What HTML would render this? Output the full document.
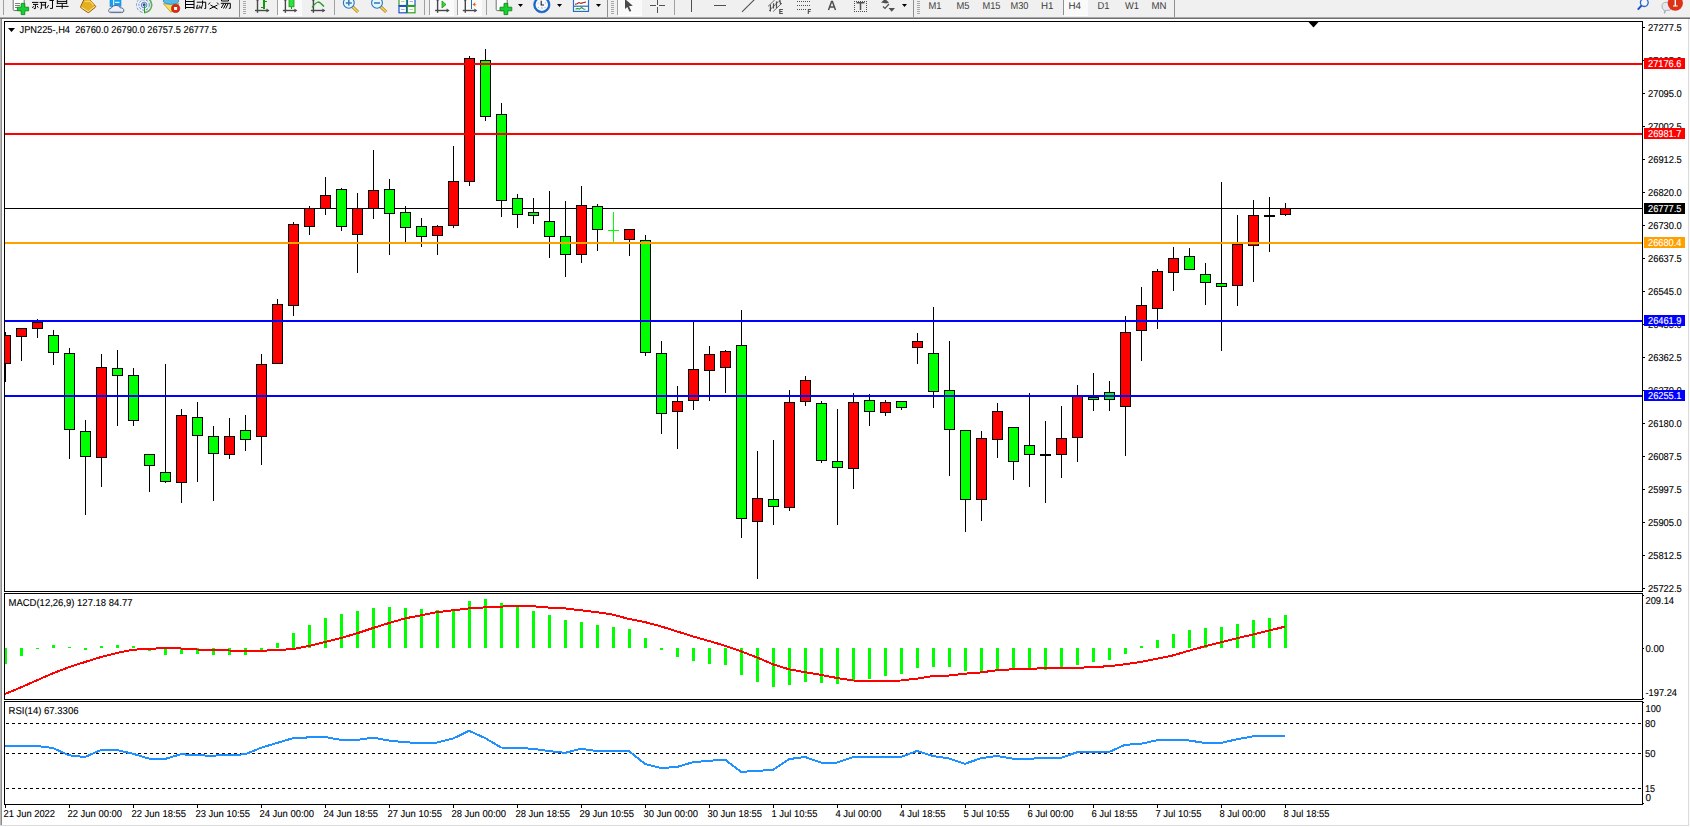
<!DOCTYPE html><html><head><meta charset="utf-8"><title>MT4 JPN225 H4</title>
<style>html,body{margin:0;padding:0;background:#fff;overflow:hidden}svg{display:block}text{font-family:"Liberation Sans",sans-serif;text-rendering:geometricPrecision}</style></head><body>
<svg width="1690" height="827" viewBox="0 0 1690 827" shape-rendering="crispEdges">
<rect x="0" y="0" width="1690" height="827" fill="#ffffff"/>
<rect x="0" y="0" width="1690" height="17" fill="#f0f0f0"/>
<rect x="0" y="17" width="1690" height="1" fill="#a8a8a8"/>
<rect x="0" y="18" width="1690" height="1" fill="#6e6e6e"/>
<rect x="0" y="19" width="1" height="807" fill="#b8b8b8"/>
<rect x="1" y="19" width="1" height="807" fill="#8c8c8c"/>
<rect x="1688" y="19" width="1" height="807" fill="#dcdcdc"/>
<rect x="1689" y="19" width="1" height="808" fill="#fafafa"/>
<rect x="0" y="825" width="1689" height="1" fill="#dcdcdc"/>
<rect x="3" y="0" width="1" height="15" fill="#a0a0a0"/>
<g shape-rendering="geometricPrecision"><rect x="13.2" y="-3" width="11" height="13.5" rx="1" fill="#fdfdfd" stroke="#707070" stroke-width="1"/><rect x="15" y="3" width="5" height="1" fill="#808080"/><rect x="15" y="5" width="5" height="1" fill="#808080"/><rect x="15" y="7" width="3" height="1" fill="#808080"/><path d="M21.2 3.4h3.6v3.8h3.8v3.6h-3.8v3.8h-3.6v-3.8h-3.8v-3.6h3.8z" fill="#18d030" stroke="#108a18" stroke-width="0.9"/></g>
<g shape-rendering="geometricPrecision" stroke="#000" stroke-width="1" fill="none"><path d="M32 2.4h6.4M33 4.4h5.2M35.4 4.4v4.2h-1.6M33.6 6.2l-1.2 1.8M37.2 6l1 1.6"/><path d="M39.6 2.4h6.8M41.4 2.4v6.2l-1.2 0.5M45.4 2.4v6.2M41.4 5h4"/><path d="M46.6 8.2l2-3M49.5 0.5h4.3M52.5 0v8.4l-2.4 0"/><path d="M57.3 -1v5.2M66.7 -1v5.2M57.3 1.4h9.4M57.3 3.4h9.4M56 6.4h12.6M62.2 3.5v5.3"/></g>
<g shape-rendering="geometricPrecision"><path d="M80.6 6.6Q80.4 7.4 81.2 8L87.6 12.4Q88.4 12.9 89.1 12.3L95.4 7.2Q96 6.6 95.4 6L88.6 -1.5L84.4 -1.5Z" fill="#e4b020" stroke="#9a5c10" stroke-width="1"/><path d="M81.6 7.3L88.3 11.6L94.8 6.4" fill="none" stroke="#f8e6a0" stroke-width="1"/><path d="M84.6 1.5L90 1.2L93.5 5" fill="none" stroke="#f8d860" stroke-width="1.2"/></g>
<g shape-rendering="geometricPrecision"><rect x="110" y="-2" width="11" height="8.5" fill="#18a0f0" stroke="#1a88e0" stroke-width="0.6"/><rect x="113" y="-2" width="1.2" height="8" fill="#d8f0ff"/><rect x="115" y="1.8" width="4.5" height="1.1" fill="#ffffff"/><path d="M109 11.8Q107.8 8.8 111.2 8.2Q112.2 5.2 116 5.4Q119 5 120.2 7.8Q124.2 7.8 123.8 11.2Q123.5 12.6 121.5 12.6L110.5 12.6Q109.3 12.5 109 11.8Z" fill="#eef0f6" stroke="#4a5a88" stroke-width="0.9"/><path d="M110 11.4L122.8 11.4" stroke="#b8c0d8" stroke-width="1"/></g>
<g shape-rendering="geometricPrecision" fill="none" stroke-width="0.9"><circle cx="144.1" cy="5" r="7.6" stroke="#6a9ad8" stroke-dasharray="3 1.5"/><circle cx="144.1" cy="5" r="5.2" stroke="#5a8ad0" stroke-dasharray="2.5 1.2"/><circle cx="144.1" cy="5" r="2.8" stroke="#4a7ac8"/><path d="M144.1 -2.6A7.6 7.6 0 0 1 144.1 12.6" stroke="#60b060" stroke-width="1.6"/></g><circle cx="144.1" cy="4.8" r="1.5" fill="#2050c0" shape-rendering="geometricPrecision"/><rect x="144" y="5" width="1.2" height="7.5" fill="#20a020"/>
<g shape-rendering="geometricPrecision"><path d="M163.5 3.8L179 3.8L171 12.4Z" fill="#f4e060" stroke="#c09020" stroke-width="0.8"/><ellipse cx="171" cy="1" rx="7.8" ry="3.3" fill="#58b8e8" stroke="#3088c0" stroke-width="0.8"/><circle cx="175.6" cy="8.5" r="4.1" fill="#e02810" stroke="#a01808" stroke-width="0.6"/><rect x="174.1" y="7" width="3" height="3" fill="#ffffff"/></g>
<g shape-rendering="geometricPrecision" stroke="#000" stroke-width="1" fill="none"><path d="M185.5 -1v10M194 -1v10M185.5 1.5h8.5M185.5 4.5h8.5M185.5 7.5h8.5"/><path d="M196.8 2.2h4.2M197.5 4.8l-1 3.6l4-0.8M199.2 5.5l1.3 2M202.5 0.5v4l-1.3 4.3M201.2 2.2h4.5v6.3h-1.3"/><path d="M210 2.5l-1.5 2M217 2.5l1.8 2M210.5 5l7 4M217.5 5l-8 4"/><path d="M221.5 -1v2h7v-2M220.8 3.3h9.5v5h-1.5M223.8 3.5l-2.5 4.5M226 3.5l-2.5 5M228.2 3.5l-2.5 5"/></g>
<rect x="239" y="0" width="1" height="17" fill="#909090"/>
<rect x="243" y="1" width="3" height="1" fill="#a8a8a8"/>
<rect x="243" y="3" width="3" height="1" fill="#a8a8a8"/>
<rect x="243" y="5" width="3" height="1" fill="#a8a8a8"/>
<rect x="243" y="7" width="3" height="1" fill="#a8a8a8"/>
<rect x="243" y="9" width="3" height="1" fill="#a8a8a8"/>
<rect x="243" y="11" width="3" height="1" fill="#a8a8a8"/>
<rect x="243" y="13" width="3" height="1" fill="#a8a8a8"/>
<g shape-rendering="geometricPrecision" stroke="#484848" stroke-width="1.4" fill="none"><line x1="257.5" y1="0" x2="257.5" y2="12.8"/><line x1="255.0" y1="10.5" x2="267.0" y2="10.5"/></g>
<polygon points="266.5,8.5 269.5,10.5 266.5,12.5" fill="#484848" shape-rendering="geometricPrecision"/>
<circle cx="257.5" cy="0.2" r="1" fill="#484848" shape-rendering="geometricPrecision"/>
<rect x="263.3" y="0" width="1.3" height="8.5" fill="#109a10"/><rect x="264" y="1" width="2.5" height="1.2" fill="#109a10"/><rect x="261" y="7" width="2.5" height="1.2" fill="#109a10"/>
<rect x="277" y="0" width="1" height="15" fill="#a0a0a0"/>
<rect x="278" y="0" width="24" height="15" fill="#fafafa"/>
<rect x="278" y="15" width="24" height="1" fill="#ffffff"/>
<g shape-rendering="geometricPrecision" stroke="#484848" stroke-width="1.4" fill="none"><line x1="285.4" y1="0" x2="285.4" y2="12.8"/><line x1="282.9" y1="10.5" x2="294.9" y2="10.5"/></g>
<polygon points="294.4,8.5 297.4,10.5 294.4,12.5" fill="#484848" shape-rendering="geometricPrecision"/>
<circle cx="285.4" cy="0.2" r="1" fill="#484848" shape-rendering="geometricPrecision"/>
<rect x="289" y="-1" width="5" height="7.8" fill="#30e040" stroke="#109a10" stroke-width="0.8" shape-rendering="geometricPrecision"/><rect x="291" y="7" width="1" height="2" fill="#109a10"/>
<g shape-rendering="geometricPrecision" stroke="#484848" stroke-width="1.4" fill="none"><line x1="313.4" y1="0" x2="313.4" y2="12.8"/><line x1="310.9" y1="10.5" x2="322.9" y2="10.5"/></g>
<polygon points="322.4,8.5 325.4,10.5 322.4,12.5" fill="#484848" shape-rendering="geometricPrecision"/>
<circle cx="313.4" cy="0.2" r="1" fill="#484848" shape-rendering="geometricPrecision"/>
<path d="M312 7.3Q315.5 2.8 318 2Q320 2 324 6.5" fill="none" stroke="#209a20" stroke-width="1.3" shape-rendering="geometricPrecision"/>
<rect x="334" y="0" width="1" height="15" fill="#a0a0a0"/>
<g shape-rendering="geometricPrecision"><line x1="352.40000000000003" y1="6.6" x2="358.0" y2="12" stroke="#b07a10" stroke-width="3"/><line x1="352.40000000000003" y1="6.6" x2="358.0" y2="12" stroke="#f0d860" stroke-width="1.6"/><circle cx="348.8" cy="2.9" r="5.4" fill="#e4f6fc" stroke="#2c74c4" stroke-width="1.1"/><rect x="345.8" y="2.2" width="6" height="1.6" fill="#3a80b8"/><rect x="348.0" y="-0.8" width="1.6" height="6.4" fill="#3a80b8"/></g>
<g shape-rendering="geometricPrecision"><line x1="380.6" y1="6.6" x2="386.2" y2="12" stroke="#b07a10" stroke-width="3"/><line x1="380.6" y1="6.6" x2="386.2" y2="12" stroke="#f0d860" stroke-width="1.6"/><circle cx="377" cy="2.9" r="5.4" fill="#e4f6fc" stroke="#2c74c4" stroke-width="1.1"/><rect x="374" y="2.2" width="6" height="1.6" fill="#3a80b8"/></g>
<g shape-rendering="geometricPrecision"><rect x="399" y="-3" width="7.5" height="8.5" fill="#ffffff" stroke="#30a020" stroke-width="1.2"/><rect x="407.5" y="-3" width="7.5" height="8.5" fill="#ffffff" stroke="#2050d0" stroke-width="1.2"/><rect x="399" y="5.6" width="7.5" height="7.2" fill="#ffffff" stroke="#2050d0" stroke-width="1.2"/><rect x="407.5" y="5.6" width="7.5" height="7.2" fill="#ffffff" stroke="#30a020" stroke-width="1.2"/><rect x="399" y="5.2" width="7.5" height="1.8" fill="#2050d0"/><rect x="407.5" y="5.2" width="7.5" height="1.8" fill="#30a020"/><rect x="401" y="9" width="3.5" height="1" fill="#9ab0e8"/><rect x="409.5" y="9" width="3.5" height="1" fill="#a0d890"/><rect x="401" y="1" width="3.5" height="1" fill="#a0d890"/><rect x="409.5" y="1" width="3.5" height="1" fill="#9ab0e8"/></g>
<rect x="424" y="0" width="1" height="15" fill="#a0a0a0"/>
<rect x="429" y="0" width="1" height="15" fill="#a0a0a0"/>
<rect x="430" y="0" width="24" height="15" fill="#fafafa"/>
<rect x="430" y="15" width="24" height="1" fill="#ffffff"/>
<g shape-rendering="geometricPrecision" stroke="#484848" stroke-width="1.4" fill="none"><line x1="437.6" y1="0" x2="437.6" y2="12.8"/><line x1="435.1" y1="10.5" x2="447.1" y2="10.5"/></g>
<polygon points="446.6,8.5 449.6,10.5 446.6,12.5" fill="#484848" shape-rendering="geometricPrecision"/>
<circle cx="437.6" cy="0.2" r="1" fill="#484848" shape-rendering="geometricPrecision"/>
<polygon points="442,1 442,8 446,4.5" fill="#40d040" stroke="#10a010" stroke-width="0.8" shape-rendering="geometricPrecision"/>
<rect x="457" y="0" width="1" height="15" fill="#a0a0a0"/>
<rect x="458" y="0" width="24" height="15" fill="#fafafa"/>
<rect x="458" y="15" width="24" height="1" fill="#ffffff"/>
<g shape-rendering="geometricPrecision" stroke="#484848" stroke-width="1.4" fill="none"><line x1="465.3" y1="0" x2="465.3" y2="12.8"/><line x1="462.8" y1="10.5" x2="474.8" y2="10.5"/></g>
<polygon points="474.3,8.5 477.3,10.5 474.3,12.5" fill="#484848" shape-rendering="geometricPrecision"/>
<circle cx="465.3" cy="0.2" r="1" fill="#484848" shape-rendering="geometricPrecision"/>
<rect x="471" y="0" width="1.2" height="8.5" fill="#1a70b0"/><polygon points="472.5,4.4 475.5,2.2 475,4 477,4.4 475,4.8 475.5,6.6" fill="#e85a10" shape-rendering="geometricPrecision"/>
<rect x="486" y="0" width="1" height="15" fill="#a0a0a0"/>
<g shape-rendering="geometricPrecision"><rect x="496.2" y="-3" width="11" height="13.6" rx="1" fill="#fdfdfd" stroke="#707070" stroke-width="1"/><path d="M504 3.4h3.8v3.8h4v3.6h-4v3.8h-3.8v-3.8h-4v-3.6h4z" fill="#18d030" stroke="#108a18" stroke-width="0.9"/></g>
<polygon points="518,4 523,4 520.5,7" fill="#000" shape-rendering="geometricPrecision"/>
<g shape-rendering="geometricPrecision"><circle cx="541.8" cy="4.7" r="7.2" fill="#f4f8fc" stroke="#1a6ad0" stroke-width="1.9"/><circle cx="541.8" cy="4.7" r="8.2" fill="none" stroke="#0e4aa0" stroke-width="0.6"/><path d="M541.2 0.8V5h2.8" fill="none" stroke="#202020" stroke-width="1.1"/><circle cx="538" cy="3" r="0.5" fill="#a0a0a0"/><circle cx="545.5" cy="3" r="0.5" fill="#a0a0a0"/><circle cx="538.5" cy="7.5" r="0.5" fill="#a0a0a0"/><circle cx="545" cy="7.5" r="0.5" fill="#a0a0a0"/><rect x="541" y="7.6" width="1.8" height="0.8" fill="#60a8f0"/></g>
<polygon points="557,4 562,4 559.5,7" fill="#000" shape-rendering="geometricPrecision"/>
<g shape-rendering="geometricPrecision"><rect x="573.5" y="-2" width="15" height="13.4" fill="#ffffff" stroke="#2a6ac8" stroke-width="1.2"/><rect x="573.5" y="5.6" width="15" height="1.2" fill="#2a6ac8"/><path d="M575 4.2l2-0.4l2-1.2l2 0.8l2-0.6l3-0.8" fill="none" stroke="#a02010" stroke-width="1.1"/><path d="M575.5 9.2l2-0.8l2 0.8l2-1.8l2 1.6l2 0.2" fill="none" stroke="#20a020" stroke-width="1.1"/></g>
<polygon points="596,4 601,4 598.5,7" fill="#000" shape-rendering="geometricPrecision"/>
<rect x="607" y="0" width="1" height="17" fill="#909090"/>
<rect x="611" y="1" width="3" height="1" fill="#a8a8a8"/>
<rect x="611" y="3" width="3" height="1" fill="#a8a8a8"/>
<rect x="611" y="5" width="3" height="1" fill="#a8a8a8"/>
<rect x="611" y="7" width="3" height="1" fill="#a8a8a8"/>
<rect x="611" y="9" width="3" height="1" fill="#a8a8a8"/>
<rect x="611" y="11" width="3" height="1" fill="#a8a8a8"/>
<rect x="611" y="13" width="3" height="1" fill="#a8a8a8"/>
<rect x="617" y="0" width="1" height="15" fill="#a0a0a0"/>
<rect x="618" y="0" width="24" height="15" fill="#fafafa"/>
<rect x="618" y="15" width="24" height="1" fill="#ffffff"/>
<polygon points="625,-1 625,9 627.3,7 629.6,11.8 631.3,11 629,6.2 632.8,5.8" fill="#4a4a4a" shape-rendering="geometricPrecision"/>
<g fill="#505050"><rect x="650" y="5" width="6" height="1.2"/><rect x="659" y="5" width="6" height="1.2"/><rect x="657" y="0" width="1.2" height="4.5"/><rect x="657" y="7" width="1.2" height="6"/></g>
<rect x="674" y="0" width="1" height="15" fill="#a0a0a0"/>
<rect x="691" y="0" width="1.2" height="12" fill="#505050"/>
<rect x="714" y="5" width="12" height="1.3" fill="#505050"/>
<line x1="742" y1="11.8" x2="754.5" y2="-0.5" stroke="#505050" stroke-width="1.1" shape-rendering="geometricPrecision"/>
<g shape-rendering="geometricPrecision" stroke="#505050" fill="none"><path d="M768 6.4L774.8 -0.2M773.1 11.6L781.8 3.3" stroke-width="0.9" stroke="#606060"/><path d="M770.4 4.5V11.6M773.5 3.3V8.5M776.5 1.4V8.1M779.7 -0.5L780.6 4.3" stroke-width="1.2"/><path d="M769 10.4h1.5M770.6 8.2h1.5M772.2 7.2h1.5M773.6 5.3h1.5M775.2 4.3h1.5M776.7 2.3h1.5M778.6 1.3h1.5M780.3 3.5h1.2" stroke-width="0.9"/></g>
<path d="M779.5 9.5h3.4M779.5 11.5h3M779.5 13.5h3.4M779.8 9v5" stroke="#505050" stroke-width="1.2" fill="none" shape-rendering="geometricPrecision"/>
<rect x="797" y="1" width="1" height="1" fill="#505050"/>
<rect x="799" y="1" width="1" height="1" fill="#505050"/>
<rect x="801" y="1" width="1" height="1" fill="#505050"/>
<rect x="803" y="1" width="1" height="1" fill="#505050"/>
<rect x="805" y="1" width="1" height="1" fill="#505050"/>
<rect x="807" y="1" width="1" height="1" fill="#505050"/>
<rect x="809" y="1" width="1" height="1" fill="#505050"/>
<rect x="797" y="5" width="1" height="1" fill="#505050"/>
<rect x="799" y="5" width="1" height="1" fill="#505050"/>
<rect x="801" y="5" width="1" height="1" fill="#505050"/>
<rect x="803" y="5" width="1" height="1" fill="#505050"/>
<rect x="805" y="5" width="1" height="1" fill="#505050"/>
<rect x="807" y="5" width="1" height="1" fill="#505050"/>
<rect x="809" y="5" width="1" height="1" fill="#505050"/>
<rect x="797" y="9" width="1" height="1" fill="#505050"/>
<rect x="799" y="9" width="1" height="1" fill="#505050"/>
<rect x="801" y="9" width="1" height="1" fill="#505050"/>
<rect x="803" y="9" width="1" height="1" fill="#505050"/>
<rect x="805" y="9" width="1" height="1" fill="#505050"/>
<path d="M808 9.5h3M808 11.5h2.5M808.3 9.3v4.6" stroke="#505050" stroke-width="1.1" fill="none" shape-rendering="geometricPrecision"/>
<path d="M828.5 10L831.6 1.4h0.8L835.5 10M829.6 7h4.8" stroke="#505050" stroke-width="1.5" fill="none" shape-rendering="geometricPrecision"/>
<rect x="854" y="1" width="1" height="1" fill="#505050"/><rect x="854" y="11" width="1" height="1" fill="#505050"/>
<rect x="856" y="1" width="1" height="1" fill="#505050"/><rect x="856" y="11" width="1" height="1" fill="#505050"/>
<rect x="858" y="1" width="1" height="1" fill="#505050"/><rect x="858" y="11" width="1" height="1" fill="#505050"/>
<rect x="860" y="1" width="1" height="1" fill="#505050"/><rect x="860" y="11" width="1" height="1" fill="#505050"/>
<rect x="862" y="1" width="1" height="1" fill="#505050"/><rect x="862" y="11" width="1" height="1" fill="#505050"/>
<rect x="864" y="1" width="1" height="1" fill="#505050"/><rect x="864" y="11" width="1" height="1" fill="#505050"/>
<rect x="866" y="1" width="1" height="1" fill="#505050"/><rect x="866" y="11" width="1" height="1" fill="#505050"/>
<rect x="854" y="1" width="1" height="1" fill="#505050"/><rect x="866" y="1" width="1" height="1" fill="#505050"/>
<rect x="854" y="3" width="1" height="1" fill="#505050"/><rect x="866" y="3" width="1" height="1" fill="#505050"/>
<rect x="854" y="5" width="1" height="1" fill="#505050"/><rect x="866" y="5" width="1" height="1" fill="#505050"/>
<rect x="854" y="7" width="1" height="1" fill="#505050"/><rect x="866" y="7" width="1" height="1" fill="#505050"/>
<rect x="854" y="9" width="1" height="1" fill="#505050"/><rect x="866" y="9" width="1" height="1" fill="#505050"/>
<rect x="854" y="11" width="1" height="1" fill="#505050"/><rect x="866" y="11" width="1" height="1" fill="#505050"/>
<path d="M856.5 2.8h8M860.5 2.8v7.2" stroke="#505050" stroke-width="1.5" fill="none" shape-rendering="geometricPrecision"/>
<g shape-rendering="geometricPrecision" fill="#505050"><polygon points="881,2.4 885,-1 889,2.4 886.5,3.5"/><polygon points="888.5,8 895,8 891.7,11.8"/></g><path d="M883 6.5l2 2l4-4.5" stroke="#505050" stroke-width="1.2" fill="none" shape-rendering="geometricPrecision"/>
<polygon points="902,4 907,4 904.5,7" fill="#000" shape-rendering="geometricPrecision"/>
<rect x="913" y="0" width="1" height="17" fill="#909090"/>
<rect x="917" y="1" width="3" height="1" fill="#a8a8a8"/>
<rect x="917" y="3" width="3" height="1" fill="#a8a8a8"/>
<rect x="917" y="5" width="3" height="1" fill="#a8a8a8"/>
<rect x="917" y="7" width="3" height="1" fill="#a8a8a8"/>
<rect x="917" y="9" width="3" height="1" fill="#a8a8a8"/>
<rect x="917" y="11" width="3" height="1" fill="#a8a8a8"/>
<rect x="917" y="13" width="3" height="1" fill="#a8a8a8"/>
<rect x="1063" y="0" width="1" height="15" fill="#909090"/>
<rect x="1064" y="0" width="24" height="15" fill="#fafafa"/>
<rect x="1064" y="15" width="24" height="1" fill="#ffffff"/>
<text x="928.5" y="9" font-size="10" fill="#3c3c3c" textLength="13" lengthAdjust="spacingAndGlyphs">M1</text>
<text x="956.5" y="9" font-size="10" fill="#3c3c3c" textLength="13" lengthAdjust="spacingAndGlyphs">M5</text>
<text x="982.5" y="9" font-size="10" fill="#3c3c3c" textLength="18" lengthAdjust="spacingAndGlyphs">M15</text>
<text x="1010.5" y="9" font-size="10" fill="#3c3c3c" textLength="18" lengthAdjust="spacingAndGlyphs">M30</text>
<text x="1041" y="9" font-size="10" fill="#3c3c3c" textLength="12.5" lengthAdjust="spacingAndGlyphs">H1</text>
<text x="1068.5" y="9" font-size="10" fill="#3c3c3c" textLength="12.5" lengthAdjust="spacingAndGlyphs">H4</text>
<text x="1097.5" y="9" font-size="10" fill="#3c3c3c" textLength="12" lengthAdjust="spacingAndGlyphs">D1</text>
<text x="1125" y="9" font-size="10" fill="#3c3c3c" textLength="14" lengthAdjust="spacingAndGlyphs">W1</text>
<text x="1151.5" y="9" font-size="10" fill="#3c3c3c" textLength="15" lengthAdjust="spacingAndGlyphs">MN</text>
<rect x="1174" y="0" width="1" height="17" fill="#909090"/>
<g shape-rendering="geometricPrecision"><circle cx="1644.3" cy="2.6" r="3.9" fill="#f4f6fc" stroke="#2a64d0" stroke-width="1.3"/><line x1="1641.7" y1="5.4" x2="1637.8" y2="9.6" stroke="#1a50c0" stroke-width="2"/></g>
<g shape-rendering="geometricPrecision"><path d="M1662 6Q1662 2.2 1667 2.2Q1672.3 2.2 1672.3 6.5Q1672.3 10.4 1667 10.4L1665.5 10.4L1664.6 13.4L1664.2 10Q1662 9.3 1662 6Z" fill="#e6e8ee" stroke="#a0a0a8" stroke-width="0.8"/><circle cx="1675.3" cy="3.2" r="7.6" fill="#dc3218"/><path d="M1674.6 -1h1.4v6.4h1.6v1h-4.6v-1h1.6z" fill="#ffffff"/></g>
<defs><clipPath id="cm"><rect x="5" y="22" width="1637" height="569"/></clipPath><clipPath id="cd"><rect x="5" y="594" width="1637" height="105"/></clipPath><clipPath id="cr"><rect x="5" y="702" width="1637" height="102"/></clipPath></defs>
<g clip-path="url(#cm)">
<rect x="5" y="208" width="1637" height="1" fill="#000"/>
<rect x="5" y="332" width="1" height="50" fill="#000"/>
<rect x="0" y="335" width="11" height="29" fill="#000"/>
<rect x="1" y="336" width="9" height="27" fill="#ff0000"/>
<rect x="21" y="328" width="1" height="33" fill="#000"/>
<rect x="16" y="328" width="11" height="9" fill="#000"/>
<rect x="17" y="329" width="9" height="7" fill="#ff0000"/>
<rect x="37" y="319" width="1" height="19" fill="#000"/>
<rect x="32" y="322" width="11" height="7" fill="#000"/>
<rect x="33" y="323" width="9" height="5" fill="#ff0000"/>
<rect x="53" y="330" width="1" height="35" fill="#000"/>
<rect x="48" y="335" width="11" height="18" fill="#000"/>
<rect x="49" y="336" width="9" height="16" fill="#00ff00"/>
<rect x="69" y="348" width="1" height="111" fill="#000"/>
<rect x="64" y="353" width="11" height="77" fill="#000"/>
<rect x="65" y="354" width="9" height="75" fill="#00ff00"/>
<rect x="85" y="420" width="1" height="95" fill="#000"/>
<rect x="80" y="431" width="11" height="26" fill="#000"/>
<rect x="81" y="432" width="9" height="24" fill="#00ff00"/>
<rect x="101" y="354" width="1" height="133" fill="#000"/>
<rect x="96" y="367" width="11" height="91" fill="#000"/>
<rect x="97" y="368" width="9" height="89" fill="#ff0000"/>
<rect x="117" y="350" width="1" height="76" fill="#000"/>
<rect x="112" y="368" width="11" height="8" fill="#000"/>
<rect x="113" y="369" width="9" height="6" fill="#00ff00"/>
<rect x="133" y="368" width="1" height="58" fill="#000"/>
<rect x="128" y="375" width="11" height="46" fill="#000"/>
<rect x="129" y="376" width="9" height="44" fill="#00ff00"/>
<rect x="149" y="454" width="1" height="38" fill="#000"/>
<rect x="144" y="454" width="11" height="12" fill="#000"/>
<rect x="145" y="455" width="9" height="10" fill="#00ff00"/>
<rect x="165" y="364" width="1" height="119" fill="#000"/>
<rect x="160" y="472" width="11" height="10" fill="#000"/>
<rect x="161" y="473" width="9" height="8" fill="#00ff00"/>
<rect x="181" y="409" width="1" height="94" fill="#000"/>
<rect x="176" y="415" width="11" height="68" fill="#000"/>
<rect x="177" y="416" width="9" height="66" fill="#ff0000"/>
<rect x="197" y="402" width="1" height="80" fill="#000"/>
<rect x="192" y="417" width="11" height="19" fill="#000"/>
<rect x="193" y="418" width="9" height="17" fill="#00ff00"/>
<rect x="213" y="426" width="1" height="75" fill="#000"/>
<rect x="208" y="436" width="11" height="18" fill="#000"/>
<rect x="209" y="437" width="9" height="16" fill="#00ff00"/>
<rect x="229" y="418" width="1" height="41" fill="#000"/>
<rect x="224" y="436" width="11" height="19" fill="#000"/>
<rect x="225" y="437" width="9" height="17" fill="#ff0000"/>
<rect x="245" y="415" width="1" height="36" fill="#000"/>
<rect x="240" y="430" width="11" height="10" fill="#000"/>
<rect x="241" y="431" width="9" height="8" fill="#00ff00"/>
<rect x="261" y="354" width="1" height="111" fill="#000"/>
<rect x="256" y="364" width="11" height="73" fill="#000"/>
<rect x="257" y="365" width="9" height="71" fill="#ff0000"/>
<rect x="277" y="299" width="1" height="65" fill="#000"/>
<rect x="272" y="304" width="11" height="60" fill="#000"/>
<rect x="273" y="305" width="9" height="58" fill="#ff0000"/>
<rect x="293" y="222" width="1" height="94" fill="#000"/>
<rect x="288" y="224" width="11" height="82" fill="#000"/>
<rect x="289" y="225" width="9" height="80" fill="#ff0000"/>
<rect x="309" y="206" width="1" height="29" fill="#000"/>
<rect x="304" y="208" width="11" height="19" fill="#000"/>
<rect x="305" y="209" width="9" height="17" fill="#ff0000"/>
<rect x="325" y="177" width="1" height="38" fill="#000"/>
<rect x="320" y="195" width="11" height="14" fill="#000"/>
<rect x="321" y="196" width="9" height="12" fill="#ff0000"/>
<rect x="341" y="188" width="1" height="43" fill="#000"/>
<rect x="336" y="189" width="11" height="38" fill="#000"/>
<rect x="337" y="190" width="9" height="36" fill="#00ff00"/>
<rect x="357" y="193" width="1" height="80" fill="#000"/>
<rect x="352" y="208" width="11" height="27" fill="#000"/>
<rect x="353" y="209" width="9" height="25" fill="#ff0000"/>
<rect x="373" y="150" width="1" height="69" fill="#000"/>
<rect x="368" y="190" width="11" height="19" fill="#000"/>
<rect x="369" y="191" width="9" height="17" fill="#ff0000"/>
<rect x="389" y="179" width="1" height="76" fill="#000"/>
<rect x="384" y="189" width="11" height="25" fill="#000"/>
<rect x="385" y="190" width="9" height="23" fill="#00ff00"/>
<rect x="405" y="206" width="1" height="37" fill="#000"/>
<rect x="400" y="212" width="11" height="16" fill="#000"/>
<rect x="401" y="213" width="9" height="14" fill="#00ff00"/>
<rect x="421" y="218" width="1" height="29" fill="#000"/>
<rect x="416" y="226" width="11" height="11" fill="#000"/>
<rect x="417" y="227" width="9" height="9" fill="#00ff00"/>
<rect x="437" y="225" width="1" height="30" fill="#000"/>
<rect x="432" y="226" width="11" height="10" fill="#000"/>
<rect x="433" y="227" width="9" height="8" fill="#ff0000"/>
<rect x="453" y="146" width="1" height="82" fill="#000"/>
<rect x="448" y="181" width="11" height="45" fill="#000"/>
<rect x="449" y="182" width="9" height="43" fill="#ff0000"/>
<rect x="469" y="56" width="1" height="130" fill="#000"/>
<rect x="464" y="58" width="11" height="124" fill="#000"/>
<rect x="465" y="59" width="9" height="122" fill="#ff0000"/>
<rect x="485" y="49" width="1" height="72" fill="#000"/>
<rect x="480" y="60" width="11" height="57" fill="#000"/>
<rect x="481" y="61" width="9" height="55" fill="#00ff00"/>
<rect x="501" y="103" width="1" height="114" fill="#000"/>
<rect x="496" y="114" width="11" height="87" fill="#000"/>
<rect x="497" y="115" width="9" height="85" fill="#00ff00"/>
<rect x="517" y="194" width="1" height="34" fill="#000"/>
<rect x="512" y="198" width="11" height="17" fill="#000"/>
<rect x="513" y="199" width="9" height="15" fill="#00ff00"/>
<rect x="533" y="198" width="1" height="26" fill="#000"/>
<rect x="528" y="212" width="11" height="4" fill="#000"/>
<rect x="529" y="213" width="9" height="2" fill="#00ff00"/>
<rect x="549" y="191" width="1" height="67" fill="#000"/>
<rect x="544" y="221" width="11" height="16" fill="#000"/>
<rect x="545" y="222" width="9" height="14" fill="#00ff00"/>
<rect x="565" y="201" width="1" height="76" fill="#000"/>
<rect x="560" y="236" width="11" height="19" fill="#000"/>
<rect x="561" y="237" width="9" height="17" fill="#00ff00"/>
<rect x="581" y="186" width="1" height="77" fill="#000"/>
<rect x="576" y="205" width="11" height="50" fill="#000"/>
<rect x="577" y="206" width="9" height="48" fill="#ff0000"/>
<rect x="597" y="204" width="1" height="47" fill="#000"/>
<rect x="592" y="206" width="11" height="24" fill="#000"/>
<rect x="593" y="207" width="9" height="22" fill="#00ff00"/>
<rect x="613" y="212" width="1" height="31" fill="#00ff00"/>
<rect x="608" y="230" width="11" height="1" fill="#00ff00"/>
<rect x="629" y="229" width="1" height="27" fill="#000"/>
<rect x="624" y="229" width="11" height="11" fill="#000"/>
<rect x="625" y="230" width="9" height="9" fill="#ff0000"/>
<rect x="645" y="235" width="1" height="121" fill="#000"/>
<rect x="640" y="240" width="11" height="113" fill="#000"/>
<rect x="641" y="241" width="9" height="111" fill="#00ff00"/>
<rect x="661" y="341" width="1" height="93" fill="#000"/>
<rect x="656" y="353" width="11" height="61" fill="#000"/>
<rect x="657" y="354" width="9" height="59" fill="#00ff00"/>
<rect x="677" y="386" width="1" height="63" fill="#000"/>
<rect x="672" y="401" width="11" height="11" fill="#000"/>
<rect x="673" y="402" width="9" height="9" fill="#ff0000"/>
<rect x="693" y="321" width="1" height="89" fill="#000"/>
<rect x="688" y="369" width="11" height="32" fill="#000"/>
<rect x="689" y="370" width="9" height="30" fill="#ff0000"/>
<rect x="709" y="346" width="1" height="55" fill="#000"/>
<rect x="704" y="354" width="11" height="17" fill="#000"/>
<rect x="705" y="355" width="9" height="15" fill="#ff0000"/>
<rect x="725" y="350" width="1" height="43" fill="#000"/>
<rect x="720" y="351" width="11" height="17" fill="#000"/>
<rect x="721" y="352" width="9" height="15" fill="#ff0000"/>
<rect x="741" y="310" width="1" height="228" fill="#000"/>
<rect x="736" y="345" width="11" height="174" fill="#000"/>
<rect x="737" y="346" width="9" height="172" fill="#00ff00"/>
<rect x="757" y="451" width="1" height="128" fill="#000"/>
<rect x="752" y="498" width="11" height="24" fill="#000"/>
<rect x="753" y="499" width="9" height="22" fill="#ff0000"/>
<rect x="773" y="440" width="1" height="85" fill="#000"/>
<rect x="768" y="499" width="11" height="8" fill="#000"/>
<rect x="769" y="500" width="9" height="6" fill="#00ff00"/>
<rect x="789" y="390" width="1" height="121" fill="#000"/>
<rect x="784" y="402" width="11" height="106" fill="#000"/>
<rect x="785" y="403" width="9" height="104" fill="#ff0000"/>
<rect x="805" y="376" width="1" height="30" fill="#000"/>
<rect x="800" y="380" width="11" height="22" fill="#000"/>
<rect x="801" y="381" width="9" height="20" fill="#ff0000"/>
<rect x="821" y="401" width="1" height="62" fill="#000"/>
<rect x="816" y="403" width="11" height="58" fill="#000"/>
<rect x="817" y="404" width="9" height="56" fill="#00ff00"/>
<rect x="837" y="409" width="1" height="116" fill="#000"/>
<rect x="832" y="461" width="11" height="7" fill="#000"/>
<rect x="833" y="462" width="9" height="5" fill="#00ff00"/>
<rect x="853" y="393" width="1" height="96" fill="#000"/>
<rect x="848" y="402" width="11" height="67" fill="#000"/>
<rect x="849" y="403" width="9" height="65" fill="#ff0000"/>
<rect x="869" y="394" width="1" height="32" fill="#000"/>
<rect x="864" y="400" width="11" height="12" fill="#000"/>
<rect x="865" y="401" width="9" height="10" fill="#00ff00"/>
<rect x="885" y="400" width="1" height="16" fill="#000"/>
<rect x="880" y="402" width="11" height="11" fill="#000"/>
<rect x="881" y="403" width="9" height="9" fill="#ff0000"/>
<rect x="901" y="401" width="1" height="9" fill="#000"/>
<rect x="896" y="401" width="11" height="7" fill="#000"/>
<rect x="897" y="402" width="9" height="5" fill="#00ff00"/>
<rect x="917" y="333" width="1" height="31" fill="#000"/>
<rect x="912" y="341" width="11" height="7" fill="#000"/>
<rect x="913" y="342" width="9" height="5" fill="#ff0000"/>
<rect x="933" y="307" width="1" height="101" fill="#000"/>
<rect x="928" y="353" width="11" height="39" fill="#000"/>
<rect x="929" y="354" width="9" height="37" fill="#00ff00"/>
<rect x="949" y="341" width="1" height="135" fill="#000"/>
<rect x="944" y="390" width="11" height="40" fill="#000"/>
<rect x="945" y="391" width="9" height="38" fill="#00ff00"/>
<rect x="965" y="430" width="1" height="102" fill="#000"/>
<rect x="960" y="430" width="11" height="70" fill="#000"/>
<rect x="961" y="431" width="9" height="68" fill="#00ff00"/>
<rect x="981" y="431" width="1" height="90" fill="#000"/>
<rect x="976" y="438" width="11" height="62" fill="#000"/>
<rect x="977" y="439" width="9" height="60" fill="#ff0000"/>
<rect x="997" y="403" width="1" height="55" fill="#000"/>
<rect x="992" y="411" width="11" height="29" fill="#000"/>
<rect x="993" y="412" width="9" height="27" fill="#ff0000"/>
<rect x="1013" y="427" width="1" height="53" fill="#000"/>
<rect x="1008" y="427" width="11" height="35" fill="#000"/>
<rect x="1009" y="428" width="9" height="33" fill="#00ff00"/>
<rect x="1029" y="393" width="1" height="94" fill="#000"/>
<rect x="1024" y="445" width="11" height="10" fill="#000"/>
<rect x="1025" y="446" width="9" height="8" fill="#00ff00"/>
<rect x="1045" y="421" width="1" height="82" fill="#000"/>
<rect x="1040" y="454" width="11" height="2" fill="#000"/>
<rect x="1061" y="406" width="1" height="72" fill="#000"/>
<rect x="1056" y="438" width="11" height="17" fill="#000"/>
<rect x="1057" y="439" width="9" height="15" fill="#ff0000"/>
<rect x="1077" y="385" width="1" height="77" fill="#000"/>
<rect x="1072" y="396" width="11" height="42" fill="#000"/>
<rect x="1073" y="397" width="9" height="40" fill="#ff0000"/>
<rect x="1093" y="373" width="1" height="38" fill="#000"/>
<rect x="1088" y="397" width="11" height="3" fill="#000"/>
<rect x="1089" y="398" width="9" height="1" fill="#00ff00"/>
<rect x="1109" y="381" width="1" height="30" fill="#000"/>
<rect x="1104" y="392" width="11" height="8" fill="#000"/>
<rect x="1105" y="393" width="9" height="6" fill="#00ff00"/>
<rect x="1125" y="316" width="1" height="140" fill="#000"/>
<rect x="1120" y="332" width="11" height="75" fill="#000"/>
<rect x="1121" y="333" width="9" height="73" fill="#ff0000"/>
<rect x="1141" y="287" width="1" height="74" fill="#000"/>
<rect x="1136" y="305" width="11" height="26" fill="#000"/>
<rect x="1137" y="306" width="9" height="24" fill="#ff0000"/>
<rect x="1157" y="269" width="1" height="60" fill="#000"/>
<rect x="1152" y="271" width="11" height="38" fill="#000"/>
<rect x="1153" y="272" width="9" height="36" fill="#ff0000"/>
<rect x="1173" y="247" width="1" height="44" fill="#000"/>
<rect x="1168" y="258" width="11" height="15" fill="#000"/>
<rect x="1169" y="259" width="9" height="13" fill="#ff0000"/>
<rect x="1189" y="248" width="1" height="22" fill="#000"/>
<rect x="1184" y="256" width="11" height="14" fill="#000"/>
<rect x="1185" y="257" width="9" height="12" fill="#00ff00"/>
<rect x="1205" y="263" width="1" height="42" fill="#000"/>
<rect x="1200" y="274" width="11" height="9" fill="#000"/>
<rect x="1201" y="275" width="9" height="7" fill="#00ff00"/>
<rect x="1221" y="182" width="1" height="169" fill="#000"/>
<rect x="1216" y="283" width="11" height="4" fill="#000"/>
<rect x="1217" y="284" width="9" height="2" fill="#00ff00"/>
<rect x="1237" y="215" width="1" height="91" fill="#000"/>
<rect x="1232" y="244" width="11" height="42" fill="#000"/>
<rect x="1233" y="245" width="9" height="40" fill="#ff0000"/>
<rect x="1253" y="200" width="1" height="82" fill="#000"/>
<rect x="1248" y="215" width="11" height="31" fill="#000"/>
<rect x="1249" y="216" width="9" height="29" fill="#ff0000"/>
<rect x="1269" y="197" width="1" height="55" fill="#000"/>
<rect x="1264" y="215" width="11" height="2" fill="#000"/>
<rect x="1285" y="203" width="1" height="13" fill="#000"/>
<rect x="1280" y="208" width="11" height="7" fill="#000"/>
<rect x="1281" y="209" width="9" height="5" fill="#ff0000"/>
<rect x="5" y="63" width="1637" height="2" fill="#ff0000"/>
<rect x="5" y="133" width="1637" height="2" fill="#ff0000"/>
<rect x="5" y="242" width="1637" height="2" fill="#ffa000"/>
<rect x="5" y="320" width="1637" height="2" fill="#0000ff"/>
<rect x="5" y="395" width="1637" height="2" fill="#0000ff"/>
<polygon points="1308.5,22 1318.5,22 1313.5,27.5" fill="#000" shape-rendering="geometricPrecision"/>
</g>
<polygon points="8,28 15,28 11.5,32" fill="#000" shape-rendering="geometricPrecision"/>
<g clip-path="url(#cd)">
<rect x="4" y="648" width="3" height="16" fill="#00ff00"/>
<rect x="20" y="648" width="3" height="8" fill="#00ff00"/>
<rect x="36" y="648" width="3" height="1" fill="#00ff00"/>
<rect x="52" y="645" width="3" height="3" fill="#00ff00"/>
<rect x="68" y="647" width="3" height="1" fill="#00ff00"/>
<rect x="84" y="648" width="3" height="2" fill="#00ff00"/>
<rect x="100" y="646" width="3" height="2" fill="#00ff00"/>
<rect x="116" y="645" width="3" height="3" fill="#00ff00"/>
<rect x="132" y="646" width="3" height="2" fill="#00ff00"/>
<rect x="148" y="648" width="3" height="3" fill="#00ff00"/>
<rect x="164" y="648" width="3" height="7" fill="#00ff00"/>
<rect x="180" y="648" width="3" height="6" fill="#00ff00"/>
<rect x="196" y="648" width="3" height="6" fill="#00ff00"/>
<rect x="212" y="648" width="3" height="7" fill="#00ff00"/>
<rect x="228" y="648" width="3" height="7" fill="#00ff00"/>
<rect x="244" y="648" width="3" height="7" fill="#00ff00"/>
<rect x="260" y="648" width="3" height="3" fill="#00ff00"/>
<rect x="276" y="643" width="3" height="5" fill="#00ff00"/>
<rect x="292" y="633" width="3" height="15" fill="#00ff00"/>
<rect x="308" y="625" width="3" height="23" fill="#00ff00"/>
<rect x="324" y="618" width="3" height="30" fill="#00ff00"/>
<rect x="340" y="614" width="3" height="34" fill="#00ff00"/>
<rect x="356" y="611" width="3" height="37" fill="#00ff00"/>
<rect x="372" y="608" width="3" height="40" fill="#00ff00"/>
<rect x="388" y="607" width="3" height="41" fill="#00ff00"/>
<rect x="404" y="608" width="3" height="40" fill="#00ff00"/>
<rect x="420" y="609" width="3" height="39" fill="#00ff00"/>
<rect x="436" y="610" width="3" height="38" fill="#00ff00"/>
<rect x="452" y="609" width="3" height="39" fill="#00ff00"/>
<rect x="468" y="601" width="3" height="47" fill="#00ff00"/>
<rect x="484" y="599" width="3" height="49" fill="#00ff00"/>
<rect x="500" y="603" width="3" height="45" fill="#00ff00"/>
<rect x="516" y="606" width="3" height="42" fill="#00ff00"/>
<rect x="532" y="611" width="3" height="37" fill="#00ff00"/>
<rect x="548" y="615" width="3" height="33" fill="#00ff00"/>
<rect x="564" y="620" width="3" height="28" fill="#00ff00"/>
<rect x="580" y="622" width="3" height="26" fill="#00ff00"/>
<rect x="596" y="625" width="3" height="23" fill="#00ff00"/>
<rect x="612" y="627" width="3" height="21" fill="#00ff00"/>
<rect x="628" y="629" width="3" height="19" fill="#00ff00"/>
<rect x="644" y="638" width="3" height="10" fill="#00ff00"/>
<rect x="660" y="648" width="3" height="2" fill="#00ff00"/>
<rect x="676" y="648" width="3" height="9" fill="#00ff00"/>
<rect x="692" y="648" width="3" height="13" fill="#00ff00"/>
<rect x="708" y="648" width="3" height="16" fill="#00ff00"/>
<rect x="724" y="648" width="3" height="17" fill="#00ff00"/>
<rect x="740" y="648" width="3" height="27" fill="#00ff00"/>
<rect x="756" y="648" width="3" height="34" fill="#00ff00"/>
<rect x="772" y="648" width="3" height="39" fill="#00ff00"/>
<rect x="788" y="648" width="3" height="37" fill="#00ff00"/>
<rect x="804" y="648" width="3" height="34" fill="#00ff00"/>
<rect x="820" y="648" width="3" height="35" fill="#00ff00"/>
<rect x="836" y="648" width="3" height="36" fill="#00ff00"/>
<rect x="852" y="648" width="3" height="33" fill="#00ff00"/>
<rect x="868" y="648" width="3" height="31" fill="#00ff00"/>
<rect x="884" y="648" width="3" height="28" fill="#00ff00"/>
<rect x="900" y="648" width="3" height="26" fill="#00ff00"/>
<rect x="916" y="648" width="3" height="20" fill="#00ff00"/>
<rect x="932" y="648" width="3" height="19" fill="#00ff00"/>
<rect x="948" y="648" width="3" height="19" fill="#00ff00"/>
<rect x="964" y="648" width="3" height="23" fill="#00ff00"/>
<rect x="980" y="648" width="3" height="23" fill="#00ff00"/>
<rect x="996" y="648" width="3" height="21" fill="#00ff00"/>
<rect x="1012" y="648" width="3" height="22" fill="#00ff00"/>
<rect x="1028" y="648" width="3" height="20" fill="#00ff00"/>
<rect x="1044" y="648" width="3" height="22" fill="#00ff00"/>
<rect x="1060" y="648" width="3" height="19" fill="#00ff00"/>
<rect x="1076" y="648" width="3" height="17" fill="#00ff00"/>
<rect x="1092" y="648" width="3" height="14" fill="#00ff00"/>
<rect x="1108" y="648" width="3" height="12" fill="#00ff00"/>
<rect x="1124" y="648" width="3" height="6" fill="#00ff00"/>
<rect x="1140" y="646" width="3" height="2" fill="#00ff00"/>
<rect x="1156" y="640" width="3" height="8" fill="#00ff00"/>
<rect x="1172" y="634" width="3" height="14" fill="#00ff00"/>
<rect x="1188" y="630" width="3" height="18" fill="#00ff00"/>
<rect x="1204" y="628" width="3" height="20" fill="#00ff00"/>
<rect x="1220" y="627" width="3" height="21" fill="#00ff00"/>
<rect x="1236" y="624" width="3" height="24" fill="#00ff00"/>
<rect x="1252" y="620" width="3" height="28" fill="#00ff00"/>
<rect x="1268" y="618" width="3" height="30" fill="#00ff00"/>
<rect x="1284" y="615" width="3" height="33" fill="#00ff00"/>
<polyline points="5,694 21,687.3 37,680.3 53,673.2 69,667.2 85,662 101,657 117,653 133,649.7 149,648.9 165,648 181,648.5 197,649.5 213,649.8 229,650.5 245,650.7 261,650.7 277,650.2 293,649 309,646 325,642 341,638 357,633.3 373,628 389,623 405,618.4 421,615.3 437,612.2 453,610.3 469,608.4 485,607.4 501,606.6 517,606 533,606.3 549,607.6 565,608.4 581,610.3 597,612.2 613,614.6 629,619 645,622.1 661,626.4 677,631.4 693,636.4 709,641 725,645.7 741,651.3 757,657.5 773,664.3 789,669.3 805,672.2 821,674.9 837,678 853,680.5 869,680.9 885,680.9 901,680.5 917,678.6 933,676.1 949,675.5 965,673.7 981,672.4 997,670.2 1013,669.3 1029,669 1045,668 1061,667.8 1077,667.8 1093,667.1 1109,666.2 1125,664.3 1141,661.9 1157,658.7 1173,655.4 1189,650.7 1205,646.3 1221,642.2 1237,638.2 1253,634.5 1269,630.5 1285,626.7" fill="none" stroke="#ff0000" stroke-width="2" stroke-linejoin="round"/>
</g>
<g clip-path="url(#cr)">
<line x1="6" y1="723.5" x2="1641" y2="723.5" stroke="#000" stroke-width="1" stroke-dasharray="3 3"/>
<line x1="6" y1="753.5" x2="1641" y2="753.5" stroke="#000" stroke-width="1" stroke-dasharray="3 3"/>
<line x1="6" y1="788.5" x2="1641" y2="788.5" stroke="#000" stroke-width="1" stroke-dasharray="3 3"/>
<polyline points="5,745.9 21,745.9 37,745.9 53,748.1 69,755.3 85,757 101,750 117,750 133,753.8 149,758.6 165,758.9 181,754.2 197,755.3 213,755.7 229,754.8 245,754.4 261,747.8 277,743 293,738.1 309,737.4 325,737 341,739.9 357,739.9 373,737.7 389,740.5 405,742.3 421,743 437,742.6 453,738.6 469,730.8 485,738 501,747.5 517,747.9 533,748.8 549,751 565,752.9 581,748.8 597,751 613,751 629,751 645,764 661,768 677,767 693,762.2 709,760.8 725,759.6 741,771.9 757,770.9 773,769.9 789,759.1 805,757 821,762.6 837,762.6 853,757.2 869,757 885,757 901,757 917,751 933,756 949,758.5 965,763.8 981,758.2 997,756 1013,758.7 1029,758.7 1045,758.1 1061,757.9 1077,752.3 1093,752 1109,752 1125,744.8 1141,743.8 1157,740.2 1173,740.2 1189,740.5 1205,743 1221,743 1237,739.2 1253,736.4 1269,735.9 1285,735.9" fill="none" stroke="#1e90ff" stroke-width="2" stroke-linejoin="round"/>
</g>
<rect x="4" y="21" width="1639" height="1" fill="#000"/>
<rect x="4" y="591" width="1639" height="1" fill="#000"/>
<rect x="4" y="21" width="1" height="571" fill="#000"/>
<rect x="1642" y="21" width="1" height="571" fill="#000"/>
<rect x="4" y="593" width="1639" height="1" fill="#000"/>
<rect x="4" y="699" width="1639" height="1" fill="#000"/>
<rect x="4" y="593" width="1" height="107" fill="#000"/>
<rect x="1642" y="593" width="1" height="107" fill="#000"/>
<rect x="4" y="701" width="1639" height="1" fill="#000"/>
<rect x="4" y="804" width="1639" height="1" fill="#000"/>
<rect x="4" y="701" width="1" height="104" fill="#000"/>
<rect x="1642" y="701" width="1" height="104" fill="#000"/>
<rect x="1643" y="27" width="2" height="1" fill="#000"/>
<text x="1648" y="31" font-size="10" fill="#000" stroke="#000" stroke-width="0.12" font-weight="normal" textLength="33.8" lengthAdjust="spacingAndGlyphs">27277.5</text>
<rect x="1643" y="60" width="2" height="1" fill="#000"/>
<text x="1648" y="64" font-size="10" fill="#000" stroke="#000" stroke-width="0.12" font-weight="normal" textLength="33.8" lengthAdjust="spacingAndGlyphs">27185.0</text>
<rect x="1643" y="93" width="2" height="1" fill="#000"/>
<text x="1648" y="97" font-size="10" fill="#000" stroke="#000" stroke-width="0.12" font-weight="normal" textLength="33.8" lengthAdjust="spacingAndGlyphs">27095.0</text>
<rect x="1643" y="126" width="2" height="1" fill="#000"/>
<text x="1648" y="130" font-size="10" fill="#000" stroke="#000" stroke-width="0.12" font-weight="normal" textLength="33.8" lengthAdjust="spacingAndGlyphs">27002.5</text>
<rect x="1643" y="159" width="2" height="1" fill="#000"/>
<text x="1648" y="163" font-size="10" fill="#000" stroke="#000" stroke-width="0.12" font-weight="normal" textLength="33.8" lengthAdjust="spacingAndGlyphs">26912.5</text>
<rect x="1643" y="192" width="2" height="1" fill="#000"/>
<text x="1648" y="196" font-size="10" fill="#000" stroke="#000" stroke-width="0.12" font-weight="normal" textLength="33.8" lengthAdjust="spacingAndGlyphs">26820.0</text>
<rect x="1643" y="225" width="2" height="1" fill="#000"/>
<text x="1648" y="229" font-size="10" fill="#000" stroke="#000" stroke-width="0.12" font-weight="normal" textLength="33.8" lengthAdjust="spacingAndGlyphs">26730.0</text>
<rect x="1643" y="258" width="2" height="1" fill="#000"/>
<text x="1648" y="262" font-size="10" fill="#000" stroke="#000" stroke-width="0.12" font-weight="normal" textLength="33.8" lengthAdjust="spacingAndGlyphs">26637.5</text>
<rect x="1643" y="291" width="2" height="1" fill="#000"/>
<text x="1648" y="295" font-size="10" fill="#000" stroke="#000" stroke-width="0.12" font-weight="normal" textLength="33.8" lengthAdjust="spacingAndGlyphs">26545.0</text>
<rect x="1643" y="324" width="2" height="1" fill="#000"/>
<text x="1648" y="328" font-size="10" fill="#000" stroke="#000" stroke-width="0.12" font-weight="normal" textLength="33.8" lengthAdjust="spacingAndGlyphs">26455.0</text>
<rect x="1643" y="357" width="2" height="1" fill="#000"/>
<text x="1648" y="361" font-size="10" fill="#000" stroke="#000" stroke-width="0.12" font-weight="normal" textLength="33.8" lengthAdjust="spacingAndGlyphs">26362.5</text>
<rect x="1643" y="390" width="2" height="1" fill="#000"/>
<text x="1648" y="394" font-size="10" fill="#000" stroke="#000" stroke-width="0.12" font-weight="normal" textLength="33.8" lengthAdjust="spacingAndGlyphs">26270.0</text>
<rect x="1643" y="423" width="2" height="1" fill="#000"/>
<text x="1648" y="427" font-size="10" fill="#000" stroke="#000" stroke-width="0.12" font-weight="normal" textLength="33.8" lengthAdjust="spacingAndGlyphs">26180.0</text>
<rect x="1643" y="456" width="2" height="1" fill="#000"/>
<text x="1648" y="460" font-size="10" fill="#000" stroke="#000" stroke-width="0.12" font-weight="normal" textLength="33.8" lengthAdjust="spacingAndGlyphs">26087.5</text>
<rect x="1643" y="489" width="2" height="1" fill="#000"/>
<text x="1648" y="493" font-size="10" fill="#000" stroke="#000" stroke-width="0.12" font-weight="normal" textLength="33.8" lengthAdjust="spacingAndGlyphs">25997.5</text>
<rect x="1643" y="522" width="2" height="1" fill="#000"/>
<text x="1648" y="526" font-size="10" fill="#000" stroke="#000" stroke-width="0.12" font-weight="normal" textLength="33.8" lengthAdjust="spacingAndGlyphs">25905.0</text>
<rect x="1643" y="555" width="2" height="1" fill="#000"/>
<text x="1648" y="559" font-size="10" fill="#000" stroke="#000" stroke-width="0.12" font-weight="normal" textLength="33.8" lengthAdjust="spacingAndGlyphs">25812.5</text>
<rect x="1643" y="588" width="2" height="1" fill="#000"/>
<text x="1648" y="592" font-size="10" fill="#000" stroke="#000" stroke-width="0.12" font-weight="normal" textLength="33.8" lengthAdjust="spacingAndGlyphs">25722.5</text>
<rect x="1644" y="58" width="41" height="11" fill="#ff0000"/>
<text x="1648" y="67" font-size="10" fill="#fff" stroke="#fff" stroke-width="0.12" font-weight="normal" textLength="33.5" lengthAdjust="spacingAndGlyphs">27176.6</text>
<rect x="1644" y="128" width="41" height="11" fill="#ff0000"/>
<text x="1648" y="137" font-size="10" fill="#fff" stroke="#fff" stroke-width="0.12" font-weight="normal" textLength="33.5" lengthAdjust="spacingAndGlyphs">26981.7</text>
<rect x="1644" y="203" width="41" height="11" fill="#000"/>
<text x="1648" y="212" font-size="10" fill="#fff" stroke="#fff" stroke-width="0.12" font-weight="normal" textLength="33.5" lengthAdjust="spacingAndGlyphs">26777.5</text>
<rect x="1644" y="237" width="41" height="11" fill="#ffa000"/>
<text x="1648" y="246" font-size="10" fill="#fff" stroke="#fff" stroke-width="0.12" font-weight="normal" textLength="33.5" lengthAdjust="spacingAndGlyphs">26680.4</text>
<rect x="1644" y="315" width="41" height="11" fill="#0000ff"/>
<text x="1648" y="324" font-size="10" fill="#fff" stroke="#fff" stroke-width="0.12" font-weight="normal" textLength="33.5" lengthAdjust="spacingAndGlyphs">26461.9</text>
<rect x="1644" y="390" width="41" height="11" fill="#0000ff"/>
<text x="1648" y="399" font-size="10" fill="#fff" stroke="#fff" stroke-width="0.12" font-weight="normal" textLength="33.5" lengthAdjust="spacingAndGlyphs">26255.1</text>
<rect x="1643" y="595" width="1" height="1" fill="#000"/>
<rect x="1643" y="648" width="1" height="1" fill="#000"/>
<rect x="1643" y="698" width="1" height="1" fill="#000"/>
<text x="1645.5" y="604" font-size="10" fill="#000" stroke="#000" stroke-width="0.12" font-weight="normal" textLength="28.5" lengthAdjust="spacingAndGlyphs">209.14</text>
<text x="1645.5" y="652" font-size="10" fill="#000" stroke="#000" stroke-width="0.12" font-weight="normal" textLength="18.5" lengthAdjust="spacingAndGlyphs">0.00</text>
<text x="1645.5" y="696" font-size="10" fill="#000" stroke="#000" stroke-width="0.12" font-weight="normal" textLength="31.5" lengthAdjust="spacingAndGlyphs">-197.24</text>
<rect x="1643" y="702" width="1" height="1" fill="#000"/>
<rect x="1643" y="803" width="1" height="1" fill="#000"/>
<text x="1645.5" y="712" font-size="10" fill="#000" stroke="#000" stroke-width="0.12" font-weight="normal" textLength="15.5" lengthAdjust="spacingAndGlyphs">100</text>
<text x="1645" y="727" font-size="10" fill="#000" stroke="#000" stroke-width="0.12" font-weight="normal" textLength="10.5" lengthAdjust="spacingAndGlyphs">80</text>
<text x="1645" y="757" font-size="10" fill="#000" stroke="#000" stroke-width="0.12" font-weight="normal" textLength="10.5" lengthAdjust="spacingAndGlyphs">50</text>
<text x="1645" y="792" font-size="10" fill="#000" stroke="#000" stroke-width="0.12" font-weight="normal" textLength="10" lengthAdjust="spacingAndGlyphs">15</text>
<text x="1645.5" y="801" font-size="10" fill="#000" stroke="#000" stroke-width="0.12" font-weight="normal" textLength="5.5" lengthAdjust="spacingAndGlyphs">0</text>
<rect x="5" y="805" width="1" height="3" fill="#000"/>
<text x="3.5" y="817" font-size="10" fill="#000" stroke="#000" stroke-width="0.12" font-weight="normal" textLength="51.5" lengthAdjust="spacingAndGlyphs">21 Jun 2022</text>
<rect x="69" y="805" width="1" height="3" fill="#000"/>
<text x="67.5" y="817" font-size="10" fill="#000" stroke="#000" stroke-width="0.12" font-weight="normal" textLength="54.5" lengthAdjust="spacingAndGlyphs">22 Jun 00:00</text>
<rect x="133" y="805" width="1" height="3" fill="#000"/>
<text x="131.5" y="817" font-size="10" fill="#000" stroke="#000" stroke-width="0.12" font-weight="normal" textLength="54.5" lengthAdjust="spacingAndGlyphs">22 Jun 18:55</text>
<rect x="197" y="805" width="1" height="3" fill="#000"/>
<text x="195.5" y="817" font-size="10" fill="#000" stroke="#000" stroke-width="0.12" font-weight="normal" textLength="54.5" lengthAdjust="spacingAndGlyphs">23 Jun 10:55</text>
<rect x="261" y="805" width="1" height="3" fill="#000"/>
<text x="259.5" y="817" font-size="10" fill="#000" stroke="#000" stroke-width="0.12" font-weight="normal" textLength="54.5" lengthAdjust="spacingAndGlyphs">24 Jun 00:00</text>
<rect x="325" y="805" width="1" height="3" fill="#000"/>
<text x="323.5" y="817" font-size="10" fill="#000" stroke="#000" stroke-width="0.12" font-weight="normal" textLength="54.5" lengthAdjust="spacingAndGlyphs">24 Jun 18:55</text>
<rect x="389" y="805" width="1" height="3" fill="#000"/>
<text x="387.5" y="817" font-size="10" fill="#000" stroke="#000" stroke-width="0.12" font-weight="normal" textLength="54.5" lengthAdjust="spacingAndGlyphs">27 Jun 10:55</text>
<rect x="453" y="805" width="1" height="3" fill="#000"/>
<text x="451.5" y="817" font-size="10" fill="#000" stroke="#000" stroke-width="0.12" font-weight="normal" textLength="54.5" lengthAdjust="spacingAndGlyphs">28 Jun 00:00</text>
<rect x="517" y="805" width="1" height="3" fill="#000"/>
<text x="515.5" y="817" font-size="10" fill="#000" stroke="#000" stroke-width="0.12" font-weight="normal" textLength="54.5" lengthAdjust="spacingAndGlyphs">28 Jun 18:55</text>
<rect x="581" y="805" width="1" height="3" fill="#000"/>
<text x="579.5" y="817" font-size="10" fill="#000" stroke="#000" stroke-width="0.12" font-weight="normal" textLength="54.5" lengthAdjust="spacingAndGlyphs">29 Jun 10:55</text>
<rect x="645" y="805" width="1" height="3" fill="#000"/>
<text x="643.5" y="817" font-size="10" fill="#000" stroke="#000" stroke-width="0.12" font-weight="normal" textLength="54.5" lengthAdjust="spacingAndGlyphs">30 Jun 00:00</text>
<rect x="709" y="805" width="1" height="3" fill="#000"/>
<text x="707.5" y="817" font-size="10" fill="#000" stroke="#000" stroke-width="0.12" font-weight="normal" textLength="54.5" lengthAdjust="spacingAndGlyphs">30 Jun 18:55</text>
<rect x="773" y="805" width="1" height="3" fill="#000"/>
<text x="771.5" y="817" font-size="10" fill="#000" stroke="#000" stroke-width="0.12" font-weight="normal" textLength="46" lengthAdjust="spacingAndGlyphs">1 Jul 10:55</text>
<rect x="837" y="805" width="1" height="3" fill="#000"/>
<text x="835.5" y="817" font-size="10" fill="#000" stroke="#000" stroke-width="0.12" font-weight="normal" textLength="46" lengthAdjust="spacingAndGlyphs">4 Jul 00:00</text>
<rect x="901" y="805" width="1" height="3" fill="#000"/>
<text x="899.5" y="817" font-size="10" fill="#000" stroke="#000" stroke-width="0.12" font-weight="normal" textLength="46" lengthAdjust="spacingAndGlyphs">4 Jul 18:55</text>
<rect x="965" y="805" width="1" height="3" fill="#000"/>
<text x="963.5" y="817" font-size="10" fill="#000" stroke="#000" stroke-width="0.12" font-weight="normal" textLength="46" lengthAdjust="spacingAndGlyphs">5 Jul 10:55</text>
<rect x="1029" y="805" width="1" height="3" fill="#000"/>
<text x="1027.5" y="817" font-size="10" fill="#000" stroke="#000" stroke-width="0.12" font-weight="normal" textLength="46" lengthAdjust="spacingAndGlyphs">6 Jul 00:00</text>
<rect x="1093" y="805" width="1" height="3" fill="#000"/>
<text x="1091.5" y="817" font-size="10" fill="#000" stroke="#000" stroke-width="0.12" font-weight="normal" textLength="46" lengthAdjust="spacingAndGlyphs">6 Jul 18:55</text>
<rect x="1157" y="805" width="1" height="3" fill="#000"/>
<text x="1155.5" y="817" font-size="10" fill="#000" stroke="#000" stroke-width="0.12" font-weight="normal" textLength="46" lengthAdjust="spacingAndGlyphs">7 Jul 10:55</text>
<rect x="1221" y="805" width="1" height="3" fill="#000"/>
<text x="1219.5" y="817" font-size="10" fill="#000" stroke="#000" stroke-width="0.12" font-weight="normal" textLength="46" lengthAdjust="spacingAndGlyphs">8 Jul 00:00</text>
<rect x="1285" y="805" width="1" height="3" fill="#000"/>
<text x="1283.5" y="817" font-size="10" fill="#000" stroke="#000" stroke-width="0.12" font-weight="normal" textLength="46" lengthAdjust="spacingAndGlyphs">8 Jul 18:55</text>
<text x="19.5" y="33" font-size="10" fill="#000" stroke="#000" stroke-width="0.12" font-weight="normal" textLength="197.5" lengthAdjust="spacingAndGlyphs">JPN225-,H4&#160;&#160;26760.0 26790.0 26757.5 26777.5</text>
<text x="8.5" y="606" font-size="10" fill="#000" stroke="#000" stroke-width="0.12" font-weight="normal" textLength="124" lengthAdjust="spacingAndGlyphs">MACD(12,26,9) 127.18 84.77</text>
<text x="8.5" y="714" font-size="10" fill="#000" stroke="#000" stroke-width="0.12" font-weight="normal" textLength="70" lengthAdjust="spacingAndGlyphs">RSI(14) 67.3306</text>
</svg></body></html>
